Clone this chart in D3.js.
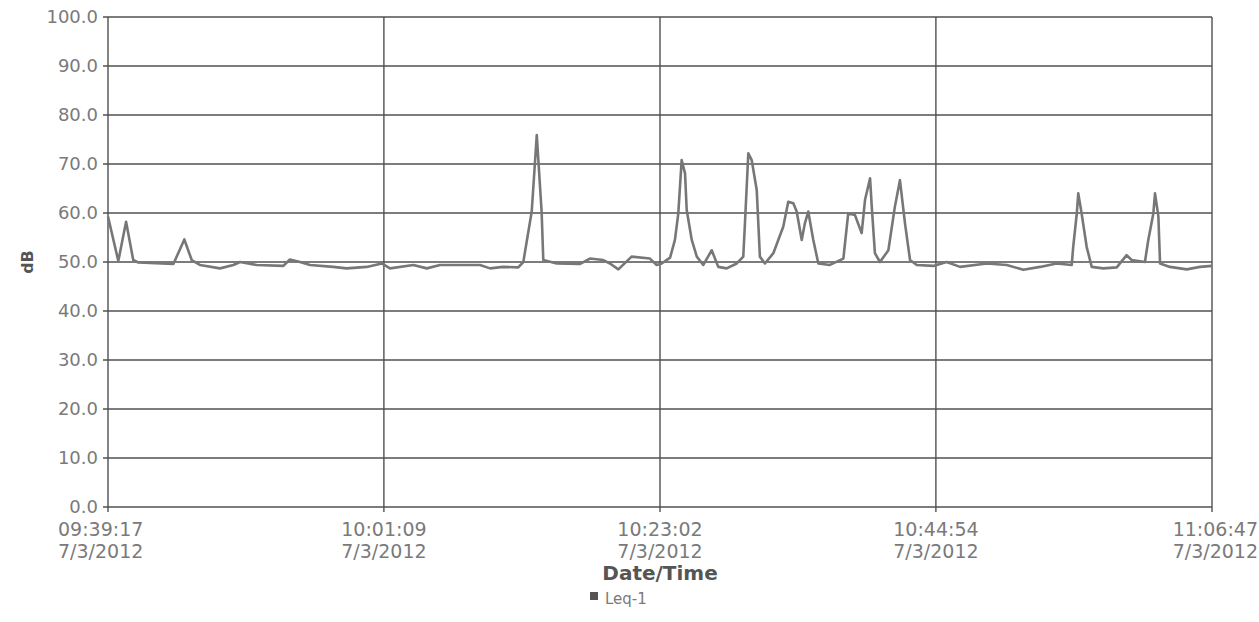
<!DOCTYPE html>
<html>
<head>
<meta charset="utf-8">
<script src="https://cdn.jsdelivr.net/npm/d3@7"></script>
<style>
  body { margin: 0; background: #fff; }
  svg { display: block; }
</style>
</head>
<body>
<svg id="chart" width="1259" height="622"></svg>
<script>
const dateStr = "7/3/2012";
const times = ["09:39:17","09:40:06","09:40:43","09:41:17","09:41:41","09:44:28","09:45:20","09:45:55","09:46:34","09:48:10",
"09:49:13","09:49:45","09:51:04","09:53:11","09:53:42","09:54:30","09:55:18","09:57:08","09:58:12","09:59:47",
"10:00:59","10:01:38","10:03:29","10:04:33","10:05:36","10:08:46","10:09:34","10:10:35","10:11:48","10:12:12",
"10:12:52","10:13:16","10:13:39","10:13:47","10:14:51","10:16:42","10:17:29","10:18:32","10:19:04","10:19:44",
"10:20:47","10:22:14","10:22:46","10:23:10","10:23:50","10:24:13","10:24:29","10:24:45","10:25:01","10:25:09",
"10:25:33","10:25:57","10:26:28","10:27:08","10:27:39","10:28:19","10:29:07","10:29:38","10:29:46","10:30:02",
"10:30:18","10:30:42","10:30:57","10:31:21","10:32:01","10:32:48","10:33:12","10:33:36","10:33:52","10:34:16",
"10:34:31","10:34:47","10:35:11","10:35:35","10:36:30","10:37:34","10:37:57","10:38:29","10:39:01","10:39:17",
"10:39:41","10:39:49","10:40:04","10:40:28","10:41:08","10:41:39","10:42:03","10:42:27","10:42:51","10:43:23",
"10:44:42","10:45:45","10:46:49","10:48:56","10:50:31","10:51:50","10:53:09","10:54:28","10:55:40","10:55:47",
"10:56:04","10:56:11","10:56:27","10:56:51","10:57:15","10:58:10","10:59:14","11:00:01","11:00:25","11:01:28",
"11:01:44","11:02:08","11:02:16","11:02:32","11:02:40","11:03:27","11:04:47","11:05:50","11:06:47"];
const leq1 = [59.3,50.2,58.2,50.4,49.9,49.6,54.6,50.4,49.4,48.7,
49.4,50.0,49.4,49.2,50.5,50.0,49.4,49.0,48.7,49.0,
49.7,48.7,49.4,48.7,49.4,49.4,48.7,49.0,48.9,50.0,
60.3,75.9,60.3,50.4,49.7,49.6,50.7,50.4,49.7,48.5,
51.1,50.7,49.4,49.7,50.9,54.5,59.9,70.8,68.1,60.6,
54.5,51.1,49.4,52.4,49.0,48.7,49.7,51.1,57.9,72.2,
70.8,64.7,51.1,49.7,51.8,57.2,62.3,62.0,60.3,54.5,
57.9,60.3,54.5,49.7,49.4,50.7,59.9,59.6,55.9,62.7,
67.1,61.3,51.8,50.0,52.4,61.3,66.7,57.9,50.4,49.4,
49.2,50.0,49.0,49.7,49.4,48.4,49.0,49.7,49.4,53.1,
59.9,64.0,59.9,53.1,49.0,48.7,48.9,51.4,50.4,50.0,
54.5,59.9,64.0,59.3,49.7,49.0,48.5,49.0,49.2];
const xTickTimes = ["09:39:17","10:01:09","10:23:02","10:44:54","11:06:47"];
const yTicks = [0,10,20,30,40,50,60,70,80,90,100];
const seriesName = "Leq-1";
const xTitle = "Date/Time";
const yTitle = "dB";

const parse = d3.timeParse("%m/%d/%Y %H:%M:%S");
const toDate = t => parse(dateStr + " " + t);
const data = times.map((t, i) => ({ t: toDate(t), v: leq1[i] }));

const L = 108, R = 1212, T = 17, B = 507;
const svg = d3.select("#chart");
const x = d3.scaleTime().domain([toDate(xTickTimes[0]), toDate(xTickTimes[xTickTimes.length - 1])]).range([L, R]);
const y = d3.scaleLinear().domain([0, 100]).range([B, T]);

const gridColor = "#505050";
const textColor = "#7a7a7a";
const font = "DejaVu Sans, Verdana, sans-serif";

// horizontal gridlines
svg.append("g").selectAll("line").data(yTicks).join("line")
  .attr("x1", L - 5).attr("x2", R)
  .attr("y1", d => y(d)).attr("y2", d => y(d))
  .attr("stroke", gridColor).attr("stroke-width", 1.4);

// vertical gridlines
svg.append("g").selectAll("line").data(xTickTimes).join("line")
  .attr("x1", d => x(toDate(d))).attr("x2", d => x(toDate(d)))
  .attr("y1", T).attr("y2", B + 5)
  .attr("stroke", gridColor).attr("stroke-width", 1.4);

// y tick labels
svg.append("g").selectAll("text").data(yTicks).join("text")
  .attr("x", L - 10).attr("y", d => y(d))
  .attr("dy", "0.35em").attr("text-anchor", "end")
  .attr("font-family", font).attr("font-size", 18).attr("fill", textColor)
  .text(d => d.toFixed(1));

// x tick labels
const last = xTickTimes.length - 1;
const xl = svg.append("g").selectAll("text").data(xTickTimes).join("text")
  .attr("font-family", font).attr("font-size", 19).attr("fill", textColor)
  .attr("text-anchor", (d, i) => i === 0 ? "start" : (i === last ? "end" : "middle"))
  .attr("transform", (d, i) => {
    const px = x(toDate(d));
    const off = i === 0 ? -50 : (i === last ? 46 : 0);
    return `translate(${px + off},0)`;
  });
xl.append("tspan").attr("x", 0).attr("y", 536).text(d => d);
xl.append("tspan").attr("x", 0).attr("y", 558).text(() => dateStr);

// line
const line = d3.line().x(d => x(d.t)).y(d => y(d.v));
svg.append("path").datum(data)
  .attr("d", line).attr("fill", "none")
  .attr("stroke", "#777").attr("stroke-width", 2.6)
  .attr("stroke-linejoin", "round");

// axis titles
svg.append("text").attr("x", (L + R) / 2).attr("y", 580)
  .attr("text-anchor", "middle").attr("font-family", font)
  .attr("font-weight", "bold").attr("font-size", 20).attr("fill", "#555")
  .text(xTitle);
svg.append("text")
  .attr("transform", `translate(33,${y(50)}) rotate(-90)`)
  .attr("text-anchor", "middle").attr("font-family", font)
  .attr("font-weight", "bold").attr("font-size", 16).attr("fill", "#555")
  .text(yTitle);

// legend
svg.append("rect").attr("x", 590).attr("y", 592).attr("width", 8).attr("height", 8).attr("fill", "#555");
svg.append("text").attr("x", 605).attr("y", 604)
  .attr("font-family", font).attr("font-size", 15).attr("fill", textColor)
  .text(seriesName);
</script>
</body>
</html>
